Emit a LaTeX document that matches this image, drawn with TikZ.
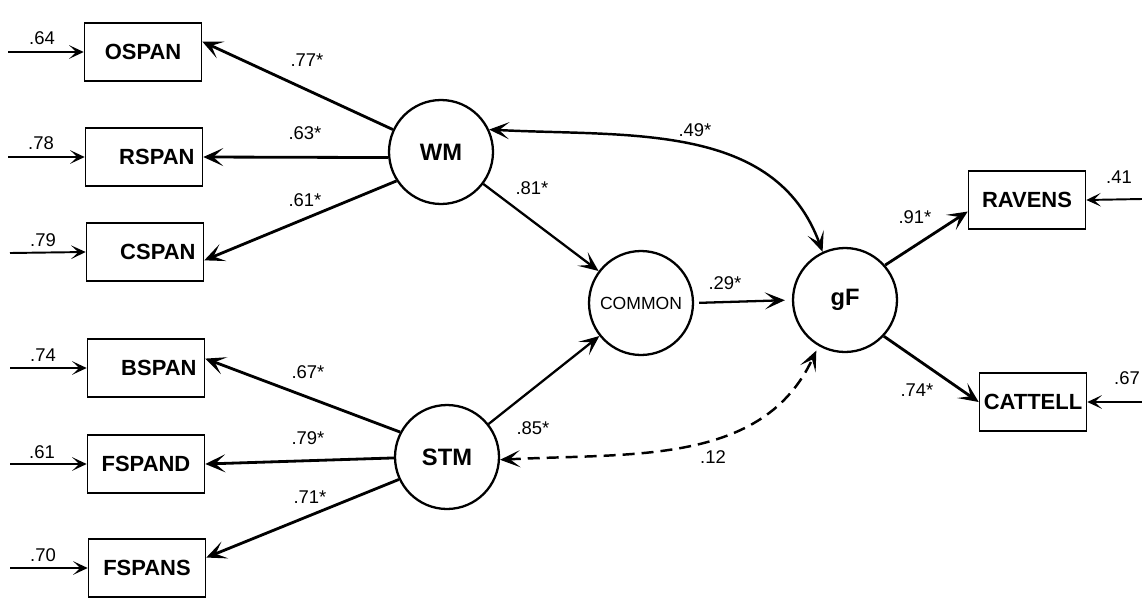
\documentclass[tikz,border=0pt]{standalone}
\usepackage{fontspec}
\setmainfont{Liberation Sans}
\usetikzlibrary{arrows.meta}
\tikzset{
  obs/.style={draw, line width=0.9pt, minimum width=2.34cm, minimum height=1.16cm, inner xsep=0.16cm, font=\fontsize{12.5}{14}\selectfont\bfseries},
  obsr/.style={obs, text width=2.02cm, align=right},
  lat/.style={draw, circle, line width=1.3pt, minimum size=2.08cm, inner sep=0pt, font=\fontsize{13.5}{15}\selectfont\bfseries},
  load/.style={line width=1.6pt, -{Stealth[length=4mm,width=3.6mm,inset=2mm]}},
  reg/.style={line width=1.3pt, -{Stealth[length=4mm,width=3.4mm,inset=2mm]}},
  cov/.style={line width=1.4pt, {Stealth[length=4mm,width=3.4mm,inset=2mm]}-{Stealth[length=4mm,width=3.4mm,inset=2mm]}},
  err/.style={line width=1.1pt, -{Stealth[length=2.9mm,width=2.7mm,inset=1.4mm]}},
  num/.style={font=\fontsize{10.5}{12}\selectfont, inner sep=0pt},
}

\begin{document}
\begin{tikzpicture}[x=0.02cm,y=-0.02cm]
\useasboundingbox (0,0) rectangle (1142,602);

\node[obs] (ospan) at (143,52) {OSPAN};
\node[obsr] (rspan) at (144,157) {RSPAN};
\node[obsr] (cspan) at (145,252) {CSPAN};
\node[obsr] (bspan) at (146,368) {BSPAN};
\node[obs] (fspand) at (146,464) {FSPAND};
\node[obs] (fspans) at (147,568) {FSPANS};
\node[obs] (ravens) at (1027,200) {RAVENS};
\node[obs, minimum width=2.14cm, inner xsep=0pt] (cattell) at (1033,402) {CATTELL};

\node[lat] (wm) at (441,152) {WM};
\node[lat] (stm) at (447,457) {STM};
\node[lat, font=\fontsize{10}{12}\selectfont] (common) at (641,303) {COMMON};
\node[lat] (gf) at (845,300) {gF};

\coordinate (e1) at (8,52);
\coordinate (e2) at (8,157);
\coordinate (e3) at (10,253);
\coordinate (e4) at (10,368);
\coordinate (e5) at (10,464);
\coordinate (e6) at (10,568);
\coordinate (e7) at (1142,199);
\coordinate (e8) at (1142,402);
\draw[err] (e1) -- (ospan.west);
\draw[err] (e2) -- (rspan.west);
\draw[err] (e3) -- (cspan.west);
\draw[err] (e4) -- (bspan.west);
\draw[err] (e5) -- (fspand.west);
\draw[err] (e6) -- (fspans.west);
\draw[err] (e7) -- (ravens.east);
\draw[err] (e8) -- (cattell.east);
\node[num] (v1) at (42,38) {.64};
\node[num] (v2) at (41,143) {.78};
\node[num] (v3) at (43,240) {.79};
\node[num] (v4) at (43,355) {.74};
\node[num] (v5) at (42,452) {.61};
\node[num] (v6) at (43,555) {.70};
\node[num] (v7) at (1119,177) {.41};
\node[num] (v8) at (1127,378) {.67};

\draw[load] (wm.155) -- (ospan.10);
\draw[load] (wm.186) -- (rspan.east);
\draw[load] (wm.213) -- (cspan.-8);
\draw[load] (stm.152) -- (bspan.9);
\draw[load] (stm.181) -- (fspand.east);
\draw[load] (stm.205) -- (fspans.10);
\draw[load] (gf.41) -- (ravens.191);
\draw[load] (gf.-43) -- (cattell.west);
\node[num] (l1) at (307,60) {.77*};
\node[num] (l2) at (305,133) {.63*};
\node[num] (l3) at (305,200) {.61*};
\node[num] (l4) at (308,372) {.67*};
\node[num] (l5) at (308,438) {.79*};
\node[num] (l6) at (310,497) {.71*};
\node[num] (l7) at (915,217) {.91*};
\node[num] (l8) at (917,390) {.74*};

\draw[reg] (wm) -- (common);
\draw[reg] (stm) -- (common);
\draw[reg, shorten <=0.1cm, shorten >=0.14cm] (common.east) -- (gf.west);
\node[num] (p1) at (532,188) {.81*};
\node[num] (p2) at (533,428) {.85*};
\node[num] (p3) at (725,283) {.29*};

\draw[cov] (wm.25) to[out=-3,in=110] (gf.115);
\draw[cov, dashed, dash pattern=on 0.24cm off 0.14cm, shorten >=0.1cm] (stm.-3) to[out=3,in=-115] (gf.-120);
\node[num] (c1) at (695,130) {.49*};
\node[num] (c2) at (713,457) {.12};
\end{tikzpicture}
\end{document}
